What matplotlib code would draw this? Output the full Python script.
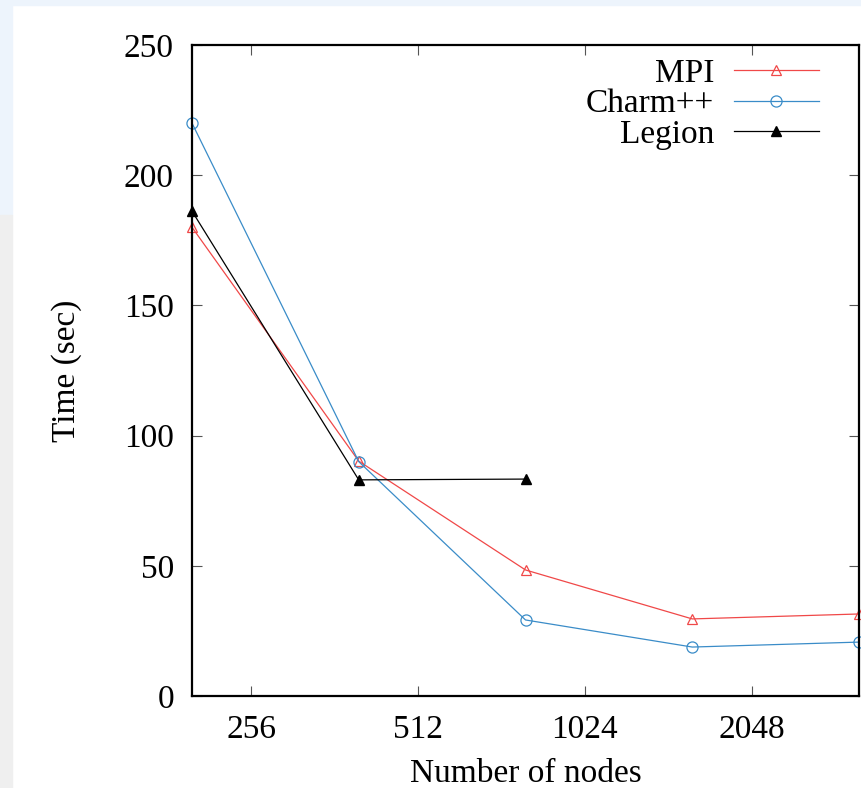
import matplotlib.pyplot as plt
from matplotlib.patches import Rectangle
from matplotlib.ticker import FixedLocator, NullLocator

plt.rcParams['font.family'] = ['Liberation Serif', 'DejaVu Serif']

nodes = [200, 400, 800, 1600, 3200]
mpi_times = [180, 90.2, 48.4, 29.6, 31.5]
charm_times = [220, 90, 29.2, 18.8, 20.7]
legion_nodes = [200, 400, 800]
legion_times = [186.2, 83, 83.3]
xtick_values = [256, 512, 1024, 2048]

fig = plt.figure(figsize=(8.62, 7.88), dpi=100)

# screenshot framing around the figure
fig.patches.append(Rectangle((0, 1 - 5 / 788), 1, 5 / 788, transform=fig.transFigure,
                             color='#edf4fc', zorder=-1))
fig.patches.append(Rectangle((0, 1 - 215 / 788), 12 / 862, 215 / 788, transform=fig.transFigure,
                             color='#edf4fc', zorder=-1))
fig.patches.append(Rectangle((0, 0), 12 / 862, 1 - 215 / 788, transform=fig.transFigure,
                             color='#efefef', zorder=-1))

ax = fig.add_axes([192 / 862, 1 - 696 / 788, (859 - 192) / 862, (696 - 45) / 788])

ax.plot(nodes, mpi_times, color='#f04848', lw=0.9, marker='^', ms=7,
        mfc='none', mec='#f04848', mew=0.9, label='MPI', clip_on=False)
ax.plot(nodes, charm_times, color='#3a8cc8', lw=0.9, marker='o', ms=8,
        mfc='none', mec='#3a8cc8', mew=0.9, label='Charm++', clip_on=False)
ax.plot(legion_nodes, legion_times, color='black', lw=0.9, marker='^', ms=6.5,
        mfc='black', mec='black', label='Legion', clip_on=False)

ax.set_xscale('log', base=2)
ax.set_xlim(200, 3200)
ax.set_ylim(0, 250)
ax.xaxis.set_major_locator(FixedLocator(xtick_values))
ax.xaxis.set_minor_locator(NullLocator())
ax.set_xticklabels([str(v) for v in xtick_values])
ax.set_yticks([0, 50, 100, 150, 200, 250])

ax.tick_params(direction='in', length=7, width=0.8, color='#555555',
               top=True, right=True, labelsize=24)
ax.tick_params(axis='x', pad=13)
ax.tick_params(axis='y', pad=13)
for s in ax.spines.values():
    s.set_linewidth(1.6)

ax.set_xlabel('Number of nodes', fontsize=24, labelpad=10)
ax.set_ylabel('Time (sec)', fontsize=24, labelpad=30)

ax.legend(loc='upper right', frameon=False, fontsize=24, markerfirst=False,
          handlelength=2.55, labelspacing=0.0, borderaxespad=0.0,
          handletextpad=0.6, bbox_to_anchor=(0.96, 1.0))

fig.savefig('out.png', dpi=100)
